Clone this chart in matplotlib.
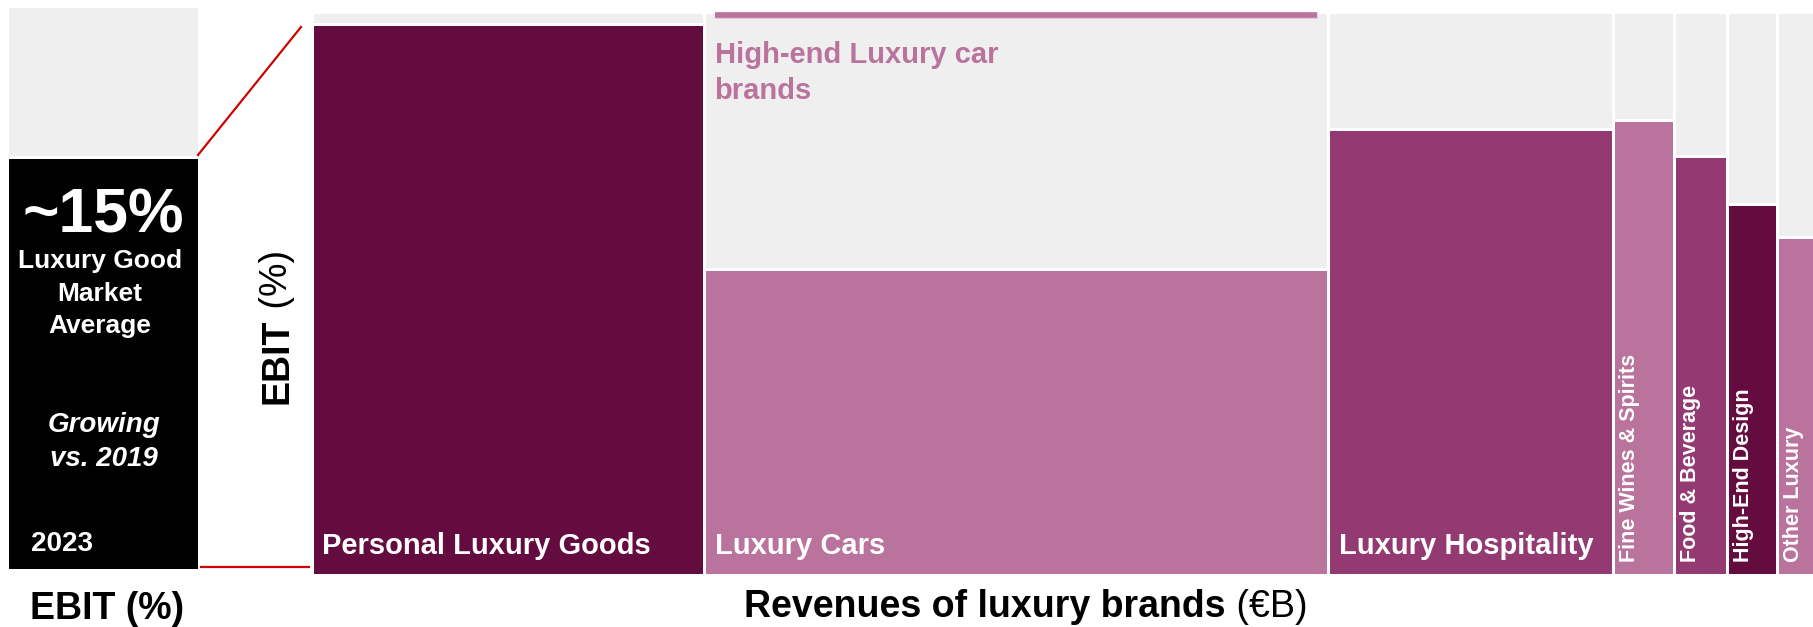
import matplotlib
matplotlib.use("Agg")
import matplotlib.pyplot as plt
from matplotlib.patches import Rectangle
from matplotlib.lines import Line2D

plt.rcParams['font.family'] = ['Liberation Sans', 'DejaVu Sans']

# Luxury segments: revenue (EUR bn) sets the column width, EBIT margin (%) its height
segments = ['Personal Luxury Goods', 'Luxury Cars', 'Luxury Hospitality',
            'Fine Wines & Spirits', 'Food & Beverage', 'High-End Design', 'Other Luxury']
revenue_bn = [362, 577, 263, 56, 49, 46, 34]
ebit_pct = [24.5, 13.6, 19.8, 20.2, 18.6, 16.5, 15.0]

# Sub-segment marker inside the Luxury Cars column
high_end_label = ['High-end Luxury car', 'brands']
high_end_ebit = 24.9

# Market-wide average shown in the side panel
market_avg_ebit = 15
market_year = '2023'
avg_lines = ['Luxury Good', 'Market', 'Average']
trend_lines = ['Growing', 'vs. 2019']

EBIT_MAX = 25.0
EBIT_MAX_SIDE = 20.5

DARK = '#640B3F'
PINK = '#B9739D'
MED = '#943A72'
GREY = '#EFEFEF'
RED = '#D00000'
seg_colors = [DARK, PINK, MED, PINK, MED, DARK, PINK]

W, H, DPI = 1813, 627, 100
fig = plt.figure(figsize=(W / DPI, H / DPI), dpi=DPI)
PT = 72.0 / DPI  # points per pixel


def fx(x):
    return x / W


def fy(y):
    return 1 - y / H


def axes_px(left, top, right, bottom):
    return fig.add_axes([fx(left), fy(bottom), (right - left) / W, (bottom - top) / H])


EDGE = 3 * PT

# ---- side panel: market average EBIT ----
side = axes_px(6.5, 5.5, 198.5, 569.5)
side.set_xlim(0, 1)
side.set_ylim(0, EBIT_MAX_SIDE)
side.axis('off')
side.add_patch(Rectangle((0, 0), 1, EBIT_MAX_SIDE, fc=GREY, ec='white', lw=EDGE))
side.add_patch(Rectangle((0, 0), 1, market_avg_ebit, fc='black', ec='white', lw=EDGE))

fig.text(fx(103.5), fy(232), f'~{market_avg_ebit}%', color='white', fontsize=45,
         fontweight='bold', ha='center', va='baseline')
for line, base in zip(avg_lines, [268, 301, 333]):
    fig.text(fx(100), fy(base), line, color='white', fontsize=19, fontweight='bold',
             ha='center', va='baseline')
for line, base in zip(trend_lines, [432, 466]):
    fig.text(fx(104), fy(base), line, color='white', fontsize=20, fontweight='bold',
             fontstyle='italic', ha='center', va='baseline')
fig.text(fx(31), fy(551), market_year, color='white', fontsize=20, fontweight='bold',
         ha='left', va='baseline')
fig.text(fx(107), fy(619), 'EBIT (%)', color='black', fontsize=27, fontweight='bold',
         ha='center', va='baseline')

# zoom connectors from the side panel to the main chart
fig.add_artist(Line2D([fx(198), fx(301)], [fy(155), fy(27)], color=RED, lw=2.2 * PT))
fig.add_artist(Line2D([fx(201), fx(309)], [fy(567), fy(567)], color=RED, lw=2.2 * PT))

# ---- main marimekko chart ----
ax = axes_px(311.5, 12.5, 1813.5, 574.5)
total = sum(revenue_bn)
ax.set_xlim(0, total)
ax.set_ylim(0, EBIT_MAX)
ax.axis('off')

x0 = 0
for name, rev, ebit, col in zip(segments, revenue_bn, ebit_pct, seg_colors):
    ax.add_patch(Rectangle((x0, 0), rev, EBIT_MAX, fc=GREY, ec='white', lw=EDGE))
    ax.add_patch(Rectangle((x0, 0), rev, ebit, fc=col, ec='white', lw=EDGE))
    if rev > 150:
        ax.annotate(name, xy=(x0, 0), xytext=(11 * PT, 21 * PT), textcoords='offset points',
                    color='white', fontsize=21, fontweight='bold', ha='left', va='baseline')
    else:
        ax.annotate(name, xy=(x0, 0), xytext=(6 * PT, 12 * PT), textcoords='offset points',
                    color='white', fontsize=15.5, fontweight='bold', rotation=90,
                    ha='left', va='bottom')
    if name == 'Luxury Cars':
        cars_x0, cars_w = x0, rev
    x0 += rev

# high-end car brands marker and label
inset = cars_w * 0.018
ax.hlines(high_end_ebit, cars_x0 + inset, cars_x0 + cars_w - inset, color='#E6C4D6',
          lw=7 * PT, capstyle='butt', zorder=5, clip_on=False)
ax.hlines(high_end_ebit, cars_x0 + inset, cars_x0 + cars_w - inset, color=PINK,
          lw=5.5 * PT, capstyle='butt', zorder=6, clip_on=False)
for line, dy in zip(high_end_label, [48, 84]):
    ax.annotate(line, xy=(cars_x0, high_end_ebit), xytext=(11 * PT, -dy * PT),
                textcoords='offset points', color=PINK, fontsize=21, fontweight='bold',
                ha='left', va='baseline')

# ---- axis titles with mixed weights ----
renderer = fig.canvas.get_renderer()

yl1 = fig.text(fx(287), fy(404), 'EBIT', fontsize=27, fontweight='bold', rotation=90,
               rotation_mode='anchor', ha='left', va='baseline')
bb = yl1.get_window_extent(renderer)
fig.text(fx(287), bb.y1 / H, ' (%)', fontsize=27, rotation=90,
         rotation_mode='anchor', ha='left', va='baseline')

xl1 = fig.text(0, fy(617), 'Revenues of luxury brands', fontsize=27, fontweight='bold',
               ha='left', va='baseline')
xl2 = fig.text(0, fy(617), ' (\u20acB)', fontsize=27, ha='left', va='baseline')
w1 = xl1.get_window_extent(renderer).width
w2 = xl2.get_window_extent(renderer).width
start = 1026 - (w1 + w2) / 2
xl1.set_x(fx(start))
xl2.set_x(fx(start + w1))

fig.savefig('out.png', dpi=DPI)
